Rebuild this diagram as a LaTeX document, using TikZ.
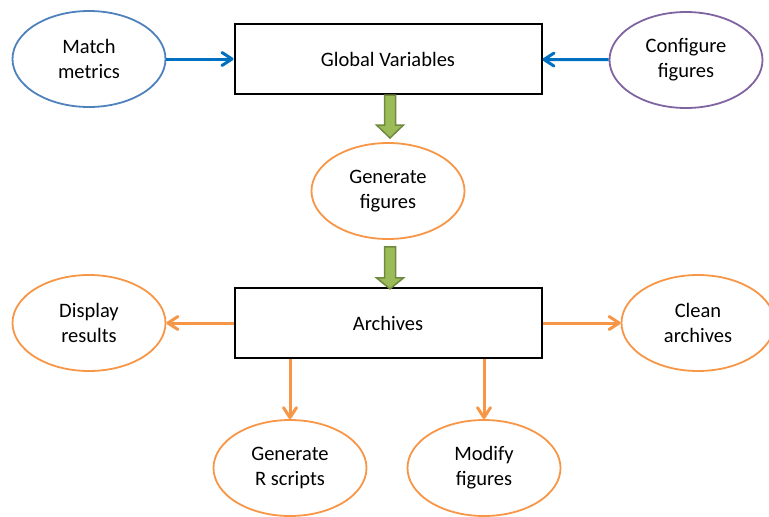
\documentclass[tikz,border=0pt]{standalone}
\usepackage{fontspec}
\setmainfont{Carlito}
\usetikzlibrary{arrows.meta,shapes,positioning}

\definecolor{matchblue}{HTML}{4F81BD}
\definecolor{feedblue}{HTML}{0070C0}
\definecolor{configpurple}{HTML}{8064A2}
\definecolor{taskorange}{HTML}{F79646}
\definecolor{stepgreen}{HTML}{9BBB59}
\definecolor{stepgreendark}{HTML}{71893F}

\tikzset{
  bubble/.style={ellipse,draw,line width=1.8pt,minimum width=153pt,
    minimum height=96pt,inner sep=0pt,align=center,
    font=\fontsize{20.5}{25}\selectfont},
  store/.style={rectangle,draw=black,line width=2pt,minimum width=307pt,
    minimum height=70pt,font=\fontsize{20.5}{25}\selectfont},
  feed/.style={->,line width=3pt,draw=feedblue},
  spread/.style={->,line width=3pt,draw=taskorange},
  blockarrow/.style={fill=stepgreen,draw=stepgreendark,line width=1.5pt,
    line join=miter}
}

\begin{document}
\begin{tikzpicture}[>={Straight Barb[length=10pt,width=13pt,round]},
  x=1pt,y=-1pt]
\useasboundingbox (0,0) rectangle (769,517);

% top row
\node[bubble,draw=matchblue] (match) at (89,59) {Match\\metrics};
\node[store] (global) at (388,59) {Global Variables};
\node[bubble,draw=configpurple] (config) at (686,60) {Configure\\figures};

\draw[feed] (match) -- (global);
\draw[feed] (config) -- (global);

% middle
\node[bubble,draw=taskorange] (generate) at (388,191) {Generate\\figures};
\node[store] (archives) at (388,323) {Archives};

\draw[blockarrow] ([xshift=-3.5pt]global.south)
-- ++(0,30) -- ++(-8,0) -- ++(13.5,13) -- ++(13.5,-13)
-- ++(-8,0) -- ++(0,-30) -- cycle;
\draw[blockarrow] ([xshift=-3.5pt,yshift=-7pt]generate.south)
-- ++(0,31) -- ++(-8,0) -- ++(13.5,11) -- ++(13.5,-11)
-- ++(-8,0) -- ++(0,-31) -- cycle;

% archive tasks
\node[bubble,draw=taskorange] (display) at (89,323) {Display\\results};
\node[bubble,draw=taskorange] (clean) at (698,323) {Clean\\archives};
\node[bubble,draw=taskorange] (rscripts) at (290,468) {Generate\\R scripts};
\node[bubble,draw=taskorange] (modify) at (484,468) {Modify\\figures};

\draw[spread] (archives) -- (display);
\draw[spread] (archives) -- (clean);
\draw[spread] (archives.south -| rscripts) -- (rscripts);
\draw[spread] (archives.south -| modify) -- (modify);

\end{tikzpicture}
\end{document}
